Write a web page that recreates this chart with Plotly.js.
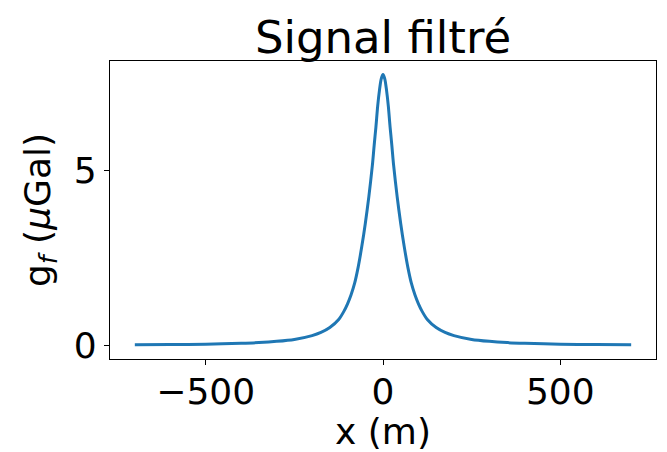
<!DOCTYPE html>
<html>
<head>
<meta charset="utf-8">
<script src="https://cdn.plot.ly/plotly-3.0.1.min.js"></script>
<style>
  html, body { margin: 0; padding: 0; background: #ffffff; }
  #chart { width: 667px; height: 452px; }
</style>
</head>
<body>
<div id="chart"></div>
<script>
// Filtered gravity signal profile (distance in m, anomaly in µGal)
const xPos = [-700, -600, -500, -400, -350, -300, -250, -200, -175, -150, -125, -110, -100, -90, -80, -70, -60, -50, -40, -30, -25, -20, -15, -10, -5,
              0, 5, 10, 15, 20, 25, 30, 40, 50, 60, 70, 80, 90, 100, 110, 125, 150, 175, 200, 250, 300, 350, 400, 500, 600, 700];
const gFilt = [0.015, 0.022, 0.035, 0.06, 0.08, 0.115, 0.17, 0.28, 0.37, 0.51, 0.74, 0.98, 1.19, 1.45, 1.78, 2.24, 2.82, 3.48, 4.25, 5.15, 5.72, 6.25, 6.85, 7.30, 7.63,
               7.75, 7.63, 7.30, 6.85, 6.25, 5.72, 5.15, 4.25, 3.48, 2.82, 2.24, 1.78, 1.45, 1.19, 0.98, 0.74, 0.51, 0.37, 0.28, 0.17, 0.115, 0.08, 0.06, 0.035, 0.022, 0.015];

const xTickVals = [-500, 0, 500];
const xTickText = ['\u2212500', '0', '500'];
const yTickVals = [0, 5];
const yTickText = ['0', '5'];

const FONT = 'DejaVu Sans, sans-serif';

const trace = {
  x: xPos,
  y: gFilt,
  type: 'scatter',
  mode: 'lines',
  line: { color: '#1f77b4', width: 3, shape: 'spline', smoothing: 0.8 },
  hoverinfo: 'skip'
};

const layout = {
  width: 667,
  height: 452,
  paper_bgcolor: '#ffffff',
  plot_bgcolor: '#ffffff',
  margin: { l: 110, r: 11, t: 61, b: 93, pad: 0 },
  showlegend: false,
  font: { family: FONT, color: '#000000', size: 30 },
  title: {
    text: 'Signal filtré',
    font: { family: FONT, size: 45, color: '#000000' },
    x: 0.5, xref: 'paper', xanchor: 'center',
    y: 1 - 37 / 452, yref: 'container', yanchor: 'middle'
  },
  xaxis: {
    range: [-770, 770],
    tickmode: 'array',
    tickvals: xTickVals,
    ticktext: xTickText,
    ticks: 'outside', ticklen: 5, tickwidth: 1, tickcolor: '#000000',
    ticklabelstandoff: -4,
    showline: true, linecolor: '#000000', linewidth: 1.2, mirror: true,
    showgrid: false, zeroline: false,
    tickfont: { family: FONT, size: 36, color: '#000000' },
    title: { text: 'x (m)', font: { family: FONT, size: 36, color: '#000000' }, standoff: 6 },
    automargin: false
  },
  yaxis: {
    range: [-0.39, 8.14],
    tickmode: 'array',
    tickvals: yTickVals,
    ticktext: yTickText,
    ticks: 'outside', ticklen: 5, tickwidth: 1, tickcolor: '#000000',
    showline: true, linecolor: '#000000', linewidth: 1.2, mirror: true,
    showgrid: false, zeroline: false,
    tickfont: { family: FONT, size: 36, color: '#000000' },
    title: { text: 'g<sub><i>f</i></sub> (<i>μ</i>Gal)', font: { family: FONT, size: 36, color: '#000000' }, standoff: 12 },
    automargin: false
  }
};

Plotly.newPlot('chart', [trace], layout, { staticPlot: true, displayModeBar: false });
</script>
</body>
</html>
